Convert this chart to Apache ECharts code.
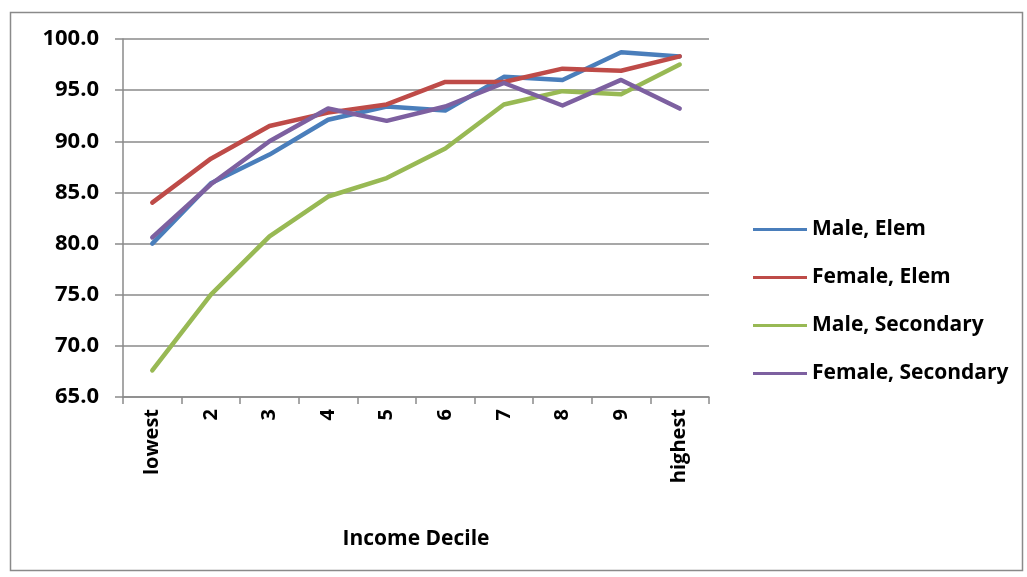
<!DOCTYPE html>
<html>
<head>
<meta charset="utf-8">
<script src="https://cdn.jsdelivr.net/npm/echarts@6/dist/echarts.min.js"></script>
<style>
html,body{margin:0;padding:0;background:#fff;}
#c{width:1027px;height:577px;}
</style>
</head>
<body>
<div id="c"></div>
<script>
const categories = ['lowest','2','3','4','5','6','7','8','9','highest'];
const maleElem = [80.0, 85.9, 88.7, 92.1, 93.4, 93.0, 96.3, 96.0, 98.7, 98.3];
const femaleElem = [84.0, 88.3, 91.5, 92.8, 93.6, 95.8, 95.8, 97.1, 96.9, 98.3];
const maleSecondary = [67.6, 75.0, 80.7, 84.6, 86.4, 89.3, 93.6, 94.9, 94.6, 97.5];
const femaleSecondary = [80.6, 85.8, 90.0, 93.2, 92.0, 93.4, 95.7, 93.5, 96.0, 93.2];
const seriesNames = ['Male, Elem','Female, Elem','Male, Secondary','Female, Secondary'];
const colors = ['#4A7EBB','#BE4B48','#98B954','#7D60A0'];

const FONT = 'Open Sans';
const chart = echarts.init(document.getElementById('c'), null, {renderer:'canvas'});
const data = [maleElem, femaleElem, maleSecondary, femaleSecondary];
chart.setOption({
  animation: false,
  color: colors,
  graphic: [{
    type: 'rect', left: 8, top: 10,
    shape: {width: 1012, height: 558},
    style: {fill: 'none', stroke: '#8a8a8a', lineWidth: 1.5}
  }],
  grid: {left: 123, right: 318, top: 39, bottom: 180},
  legend: {
    orient: 'vertical', left: 748, top: 214,
    icon: 'rect', itemWidth: 54, itemHeight: 3, itemGap: 27,
    textStyle: {fontFamily: FONT, fontWeight: 'bold', fontSize: 21, color: '#000', lineHeight: 21, padding: [0,0,0,0]},
    data: seriesNames
  },
  xAxis: {
    type: 'category', data: categories, boundaryGap: true,
    name: 'Income Decile', nameLocation: 'middle', nameGap: 132,
    nameTextStyle: {fontFamily: FONT, fontWeight: 'bold', fontSize: 21, color: '#000'},
    axisLine: {lineStyle: {color: '#8a8a8a', width: 1.5}},
    axisTick: {show: true, alignWithLabel: false, length: 7, lineStyle: {color: '#8a8a8a', width: 1.5}},
    axisLabel: {rotate: 90, interval: 0, margin: 12, fontFamily: FONT, fontWeight: 'bold', fontSize: 20, color: '#000'},
    splitLine: {show: false}
  },
  yAxis: {
    type: 'value', min: 65, max: 100, interval: 5,
    axisLine: {show: true, lineStyle: {color: '#8a8a8a', width: 1.5}},
    axisTick: {show: true, length: 8, lineStyle: {color: '#8a8a8a', width: 1.5}},
    axisLabel: {margin: 24, fontFamily: FONT, fontWeight: 'bold', fontSize: 22, color: '#000',
      formatter: v => v.toFixed(1)},
    splitLine: {show: true, lineStyle: {color: '#8a8a8a', width: 1.5}}
  },
  series: seriesNames.map((n, i) => ({
    name: n, type: 'line', data: data[i],
    symbol: 'none', smooth: false,
    lineStyle: {width: 4.5, color: colors[i], cap: 'round', join: 'round'},
    itemStyle: {color: colors[i]}
  }))
});
</script>
</body>
</html>
